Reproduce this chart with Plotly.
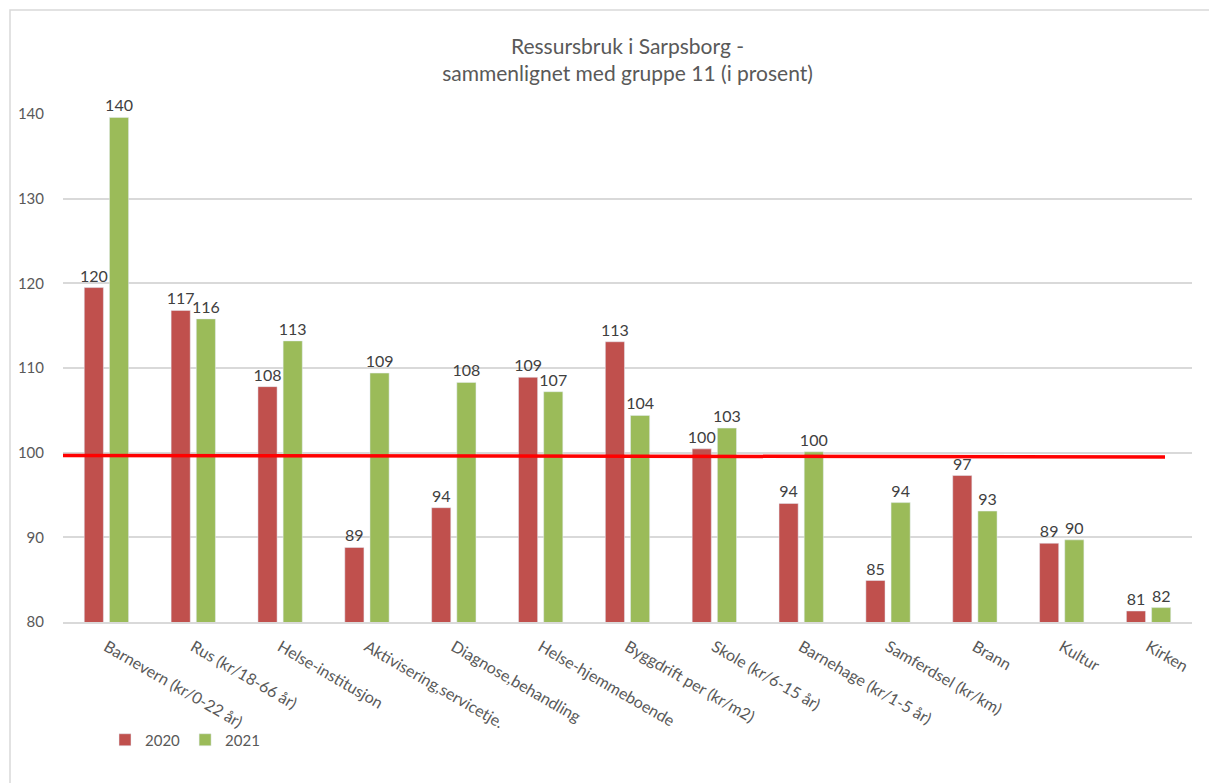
import plotly.graph_objects as go

categories = [
    "Barnevern (kr/0-22 år)", "Rus (kr/18-66 år)", "Helse-institusjon",
    "Aktivisering,servicetje.", "Diagnose,behandling", "Helse-hjemmeboende",
    "Byggdrift per (kr/m2)", "Skole (kr/6-15 år)", "Barnehage (kr/1-5 år)",
    "Samferdsel (kr/km)", "Brann", "Kultur", "Kirken",
]
values_2020 = [119.5, 116.8, 107.8, 88.8, 93.5, 108.9, 113.1, 100.45, 94.0, 84.9, 97.3, 89.3, 81.3]
values_2021 = [139.6, 115.8, 113.2, 109.4, 108.3, 107.2, 104.4, 102.9, 100.1, 94.1, 93.1, 89.7, 81.7]
series_names = ["2020", "2021"]
ref_line = [99.67, 99.5]   # red reference line, start and end value
y_ticks = [80, 90, 100, 110, 120, 130, 140]

FONT = "Lato"
GRAY = "#595959"
W, H = 1209, 783
L, R, T, B = 63, 17, 114, 161
pw, ph = W - L - R, H - T - B

fig = go.Figure()
for name, vals, col in [(series_names[0], values_2020, "#C0504D"),
                        (series_names[1], values_2021, "#9BBB59")]:
    fig.add_trace(go.Bar(
        x=categories, y=vals, name=name, marker_color=col,
        texttemplate="%{y:.0f}", textposition="outside", cliponaxis=False,
        constraintext="none",
        textfont=dict(family=FONT, size=16, color="#404040"),
    ))

fig.add_shape(type="line", xref="x domain", yref="y",
              x0=0, x1=(1165 - L) / pw, y0=ref_line[0], y1=ref_line[1],
              line=dict(color="#FF0000", width=3.5))

# outer chart border
fig.add_shape(type="rect", xref="paper", yref="paper",
              x0=(10 - L) / pw, x1=(1230 - L) / pw,
              y0=-(800 - (H - B)) / ph, y1=((H - B) - 10) / ph,
              line=dict(color="#D9D9D9", width=1.5), layer="below")

fig.update_layout(
    width=W, height=H,
    margin=dict(l=L, r=R, t=T, b=B),
    paper_bgcolor="white", plot_bgcolor="white",
    barmode="group", bargap=0.42, bargroupgap=0.24,
    title=dict(text="Ressursbruk i Sarpsborg -<br>sammenlignet med gruppe 11 (i prosent)",
               x=0.5, xanchor="center", xref="paper", y=1 - 54 / H, yanchor="middle",
               font=dict(family=FONT, size=21, color=GRAY)),
    font=dict(family=FONT, color=GRAY),
    showlegend=True,
    legend=dict(orientation="h", x=(105 - L) / pw, xanchor="left",
                y=-(740 - (H - B)) / ph, yanchor="middle",
                bgcolor="rgba(0,0,0,0)",
                font=dict(family=FONT, size=15, color=GRAY),
                itemwidth=30, traceorder="normal"),
    xaxis=dict(tickangle=30, tickfont=dict(family=FONT, size=16, color=GRAY),
               showline=True, linecolor="#D9D9D9", linewidth=1.5,
               ticks="", showgrid=False, ticklabelstandoff=8),
    yaxis=dict(range=[80, 140], tickvals=y_ticks, showgrid=True,
               gridcolor="#D9D9D9", gridwidth=1.5, zeroline=False,
               showline=False, ticks="", ticklabelstandoff=18,
               tickfont=dict(family=FONT, size=15, color=GRAY)),
)

fig.write_html("out.html", config={"displayModeBar": False},
               post_script="document.body.style.margin='0px';")
